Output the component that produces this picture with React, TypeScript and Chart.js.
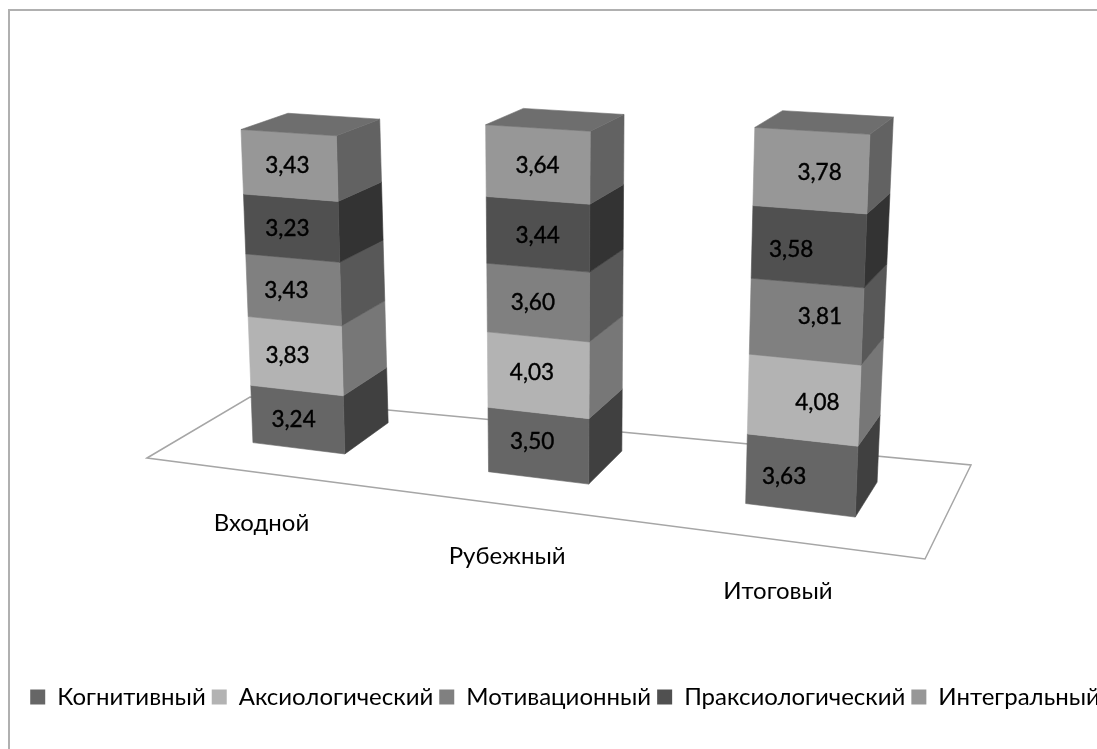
import React, { useEffect, useRef } from "react";
import { Chart, registerables } from "chart.js";

Chart.register(...registerables);

const categories = ["Входной", "Рубежный", "Итоговый"];
const seriesNames = ["Когнитивный", "Аксиологический", "Мотивационный", "Праксиологический", "Интегральный"];
const cognitive = [3.24, 3.5, 3.63];
const axiological = [3.83, 4.03, 4.08];
const motivational = [3.43, 3.6, 3.81];
const praxiological = [3.23, 3.44, 3.58];
const integral = [3.43, 3.64, 3.78];
const seriesValues = [cognitive, axiological, motivational, praxiological, integral];

const frontColors = ["#666666", "#b3b3b3", "#808080", "#505050", "#979797"];
const sideColors = ["#404040", "#777777", "#585858", "#333333", "#626262"];
const topColor = "#6e6e6e";
const fontFamily = "Lato, 'Open Sans', sans-serif";

// Camera calibration: [category, side (0 left, 1 right), at top (0 foot, 1 top), screen x, screen y]
const frontCalibration = [
  [0, 0, 0, 253, 443], [0, 1, 0, 345, 453], [0, 0, 1, 241, 130], [0, 1, 1, 336, 135],
  [1, 0, 0, 488, 472], [1, 1, 0, 589, 484], [1, 0, 1, 486, 125], [1, 1, 1, 590, 132],
  [2, 0, 0, 746, 504], [2, 1, 0, 855, 517], [2, 0, 1, 756, 127], [2, 1, 1, 869, 134],
];
const backCalibration = [
  [0, 1, 0, 388, 423], [0, 1, 1, 381, 119], [0, 0, 1, 288, 113],
  [1, 1, 0, 622, 451], [1, 1, 1, 626, 114], [1, 0, 1, 520, 109],
  [2, 1, 0, 877, 482], [2, 1, 1, 893, 117], [2, 0, 1, 783, 111],
];
const floorPolygon = [[147, 458], [250, 397], [971, 465], [925, 559]];
const categoryLabelOffsets = [[-37, 75], [-31, 78], [-22, 81]];
// label nudges [dx, dy] per category, per series (bottom to top of the stack)
const valueLabelNudges = [
  [[-4, 0], [-8, 0], [-7, 1], [-4, 1], [-2, 0]],
  [[-6, -4], [-6, -2], [-5, 0], [0, 2], [0, 1]],
  [[-17, 1], [14, 3], [14, -5], [-17, 3], [9, 2]],
];

type H = number[];

function solveHomography(pairs: number[][]): H {
  const n = 8;
  const m: number[][] = Array.from({ length: n }, () => new Array(n + 1).fill(0));
  const add = (r: number[], t: number) => {
    for (let i = 0; i < n; i++) {
      for (let j = 0; j < n; j++) m[i][j] += r[i] * r[j];
      m[i][n] += r[i] * t;
    }
  };
  for (const [u0, v0, x0, y0] of pairs) {
    const u = u0 / 1000, v = v0 / 1000, x = x0 / 1000, y = y0 / 1000;
    add([u, v, 1, 0, 0, 0, -u * x, -v * x], x);
    add([0, 0, 0, u, v, 1, -u * y, -v * y], y);
  }
  for (let c = 0; c < n; c++) {
    let p = c;
    for (let r = c + 1; r < n; r++) if (Math.abs(m[r][c]) > Math.abs(m[p][c])) p = r;
    [m[c], m[p]] = [m[p], m[c]];
    for (let r = 0; r < n; r++) {
      if (r === c) continue;
      const f = m[r][c] / m[c][c];
      for (let k = c; k <= n; k++) m[r][k] -= f * m[c][k];
    }
  }
  return m.map((row, i) => row[n] / row[i]);
}

function project(h: H, u0: number, v0: number): [number, number] {
  const u = u0 / 1000, v = v0 / 1000;
  const w = h[6] * u + h[7] * v + 1;
  return [((h[0] * u + h[1] * v + h[2]) / w) * 1000, ((h[3] * u + h[4] * v + h[5]) / w) * 1000];
}

function quad(ctx: CanvasRenderingContext2D, pts: number[][], fill: string) {
  ctx.beginPath();
  pts.forEach((p, i) => (i ? ctx.lineTo(p[0], p[1]) : ctx.moveTo(p[0], p[1])));
  ctx.closePath();
  ctx.fillStyle = fill;
  ctx.fill();
  ctx.strokeStyle = fill;
  ctx.lineWidth = 0.6;
  ctx.stroke();
}

const scene3d = {
  id: "scene3d",
  beforeDatasetsDraw(chart: any) {
    const ctx: CanvasRenderingContext2D = chart.ctx;
    const metas = seriesValues.map((_, i) => chart.getDatasetMeta(i).data);
    const yScale = chart.scales.y;
    const anchor = (row: number[]) => {
      const [cat, side, top, sx, sy] = row;
      const foot = metas[0][cat];
      const head = metas[metas.length - 1][cat];
      const u = foot.x + (side ? 0.5 : -0.5) * foot.width;
      const v = top ? head.y : yScale.getPixelForValue(0);
      return [u, v, sx, sy];
    };
    const front = solveHomography(frontCalibration.map(anchor));
    const back = solveHomography(backCalibration.map(anchor));

    ctx.save();
    // frame of the chart
    ctx.strokeStyle = "#b0b0b0";
    ctx.lineWidth = 2;
    ctx.beginPath();
    ctx.moveTo(9, 749);
    ctx.lineTo(9, 10);
    ctx.lineTo(1097, 10);
    ctx.stroke();

    // floor
    ctx.beginPath();
    floorPolygon.forEach((p, i) => (i ? ctx.lineTo(p[0], p[1]) : ctx.moveTo(p[0], p[1])));
    ctx.closePath();
    ctx.strokeStyle = "#a6a6a6";
    ctx.lineWidth = 1.5;
    ctx.stroke();

    categories.forEach((name, c) => {
      metas.forEach((data, s) => {
        const el = data[c];
        const l = el.x - el.width / 2;
        const r = el.x + el.width / 2;
        const fl0 = project(front, l, el.base), fr0 = project(front, r, el.base);
        const fl1 = project(front, l, el.y), fr1 = project(front, r, el.y);
        const br0 = project(back, r, el.base), br1 = project(back, r, el.y);
        quad(ctx, [br0, br1, fr1, fr0], sideColors[s]);
        quad(ctx, [fl0, fr0, fr1, fl1], frontColors[s]);
        if (s === metas.length - 1) {
          quad(ctx, [fl1, fr1, br1, project(back, l, el.y)], topColor);
        }
      });
      metas.forEach((data, s) => {
        const el = data[c];
        const [tx, ty] = project(front, el.x, (el.y + el.base) / 2);
        const [dx, dy] = valueLabelNudges[c][s];
        const text = seriesValues[s][c].toFixed(2).replace(".", ",");
        ctx.fillStyle = "#000000";
        ctx.strokeStyle = "#000000";
        ctx.lineWidth = 0.4;
        ctx.font = `22.5px ${fontFamily}`;
        ctx.textAlign = "center";
        ctx.textBaseline = "middle";
        ctx.fillText(text, tx + dx, ty + dy);
        ctx.strokeText(text, tx + dx, ty + dy);
      });
      const el = metas[0][c];
      const [ax, ay] = project(front, el.x, el.base);
      ctx.fillStyle = "#000000";
      ctx.font = `24px ${fontFamily}`;
      ctx.textAlign = "center";
      ctx.textBaseline = "middle";
      ctx.fillText(name, ax + categoryLabelOffsets[c][0], ay + categoryLabelOffsets[c][1]);
    });
    ctx.restore();
    return false;
  },
};

export default function App() {
  const ref = useRef<HTMLCanvasElement>(null);
  useEffect(() => {
    const chart = new Chart(ref.current!, {
      type: "bar",
      data: {
        labels: categories,
        datasets: seriesValues.map((values, i) => ({
          label: seriesNames[i],
          data: values,
          backgroundColor: frontColors[i],
          borderWidth: 0,
        })),
      },
      options: {
        animation: false,
        responsive: false,
        layout: { padding: { left: 20, right: 20, top: 90, bottom: 30 } },
        scales: {
          x: { stacked: true, display: false },
          y: { stacked: true, display: false, min: 0, max: 20 },
        },
        plugins: {
          tooltip: { enabled: false },
          legend: {
            position: "bottom",
            labels: {
              boxWidth: 15,
              boxHeight: 15,
              padding: 6,
              color: "#000000",
              font: { family: fontFamily, size: 24 },
            },
          },
        },
        datasets: { bar: { categoryPercentage: 0.6, barPercentage: 0.667 } },
      },
      plugins: [scene3d],
    } as any);
    return () => chart.destroy();
  }, []);
  return (
    <div style={{ position: "fixed", left: 0, top: 0, width: 1097, height: 749, overflow: "hidden", background: "#ffffff" }}>
      <canvas ref={ref} width={1130} height={749} style={{ display: "block" }} />
    </div>
  );
}
